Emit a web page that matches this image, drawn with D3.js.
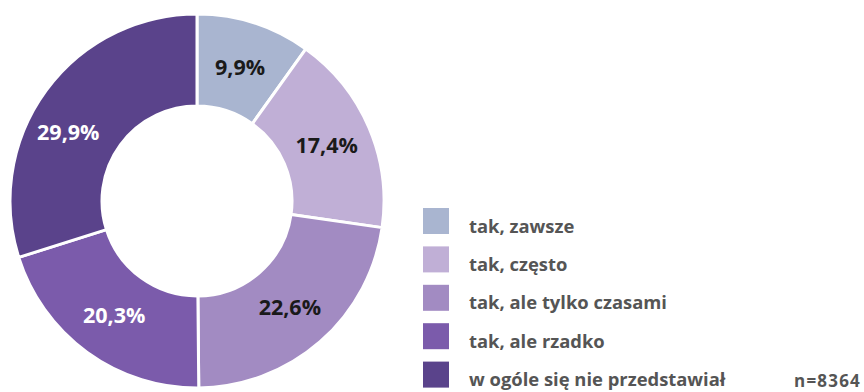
<!DOCTYPE html>
<html>
<head>
<meta charset="utf-8">
<script src="https://cdn.jsdelivr.net/npm/d3@7"></script>
<style>
  html, body { margin: 0; padding: 0; background: #fff; }
  svg { display: block; font-family: "Open Sans", "Noto Sans", sans-serif; }
</style>
</head>
<body>
<svg id="chart" width="864" height="392"></svg>
<script>
// Answer categories and their shares (%)
const categories = ["tak, zawsze", "tak, często", "tak, ale tylko czasami", "tak, ale rzadko", "w ogóle się nie przedstawiał"];
const values = [9.9, 17.4, 22.6, 20.3, 29.9];
const colors = ["#a9b5d0", "#c0afd6", "#a28bc2", "#7b5bab", "#5a438b"];
const labelColors = ["#1a1a1a", "#1a1a1a", "#1a1a1a", "#ffffff", "#ffffff"];
const sampleNote = "n=8364";

const svg = d3.select("#chart");
const cx = 197, cy = 201, outerR = 187, innerR = 95;

const fmt = v => d3.format(".1f")(v).replace(".", ",") + "%";

const pie = d3.pie().sort(null).value(d => d.value);
const arcs = pie(categories.map((c, i) => ({ name: c, value: values[i], i })));

const arc = d3.arc().innerRadius(innerR).outerRadius(outerR);
const labelArc = d3.arc().innerRadius((innerR + outerR) / 2).outerRadius((innerR + outerR) / 2);

// the largest slice's label sits a little further round toward the top
const labelNudge = { 4: [-15, 15] };

const g = svg.append("g").attr("transform", `translate(${cx},${cy})`);

g.selectAll("path.slice")
  .data(arcs)
  .join("path")
  .attr("class", "slice")
  .attr("d", arc)
  .attr("fill", d => colors[d.data.i])
  .attr("stroke", "#fff")
  .attr("stroke-width", 3)
  .attr("stroke-linejoin", "round");

g.selectAll("text.pct")
  .data(arcs)
  .join("text")
  .attr("class", "pct")
  .attr("transform", d => {
    const [x, y] = labelArc.centroid(d);
    const [nx, ny] = labelNudge[d.data.i] || [0, 0];
    return `translate(${x + nx},${y + ny})`;
  })
  .attr("text-anchor", "middle")
  .attr("dy", "0.36em")
  .attr("font-size", 21.5)
  .attr("font-weight", 700)
  .attr("fill", d => labelColors[d.data.i])
  .text(d => fmt(d.data.value));

// Legend
const legendY = d3.scaleBand().domain(categories).range([208, 400]);
const legend = svg.append("g").attr("transform", "translate(423,0)");
const rows = legend.selectAll("g.row")
  .data(categories)
  .join("g")
  .attr("class", "row")
  .attr("transform", d => `translate(0,${legendY(d)})`);

rows.append("rect")
  .attr("width", 26)
  .attr("height", 26)
  .attr("fill", (d, i) => colors[i]);

rows.append("text")
  .attr("x", 46)
  .attr("y", 24.5)
  .attr("font-size", 18.4)
  .attr("font-weight", 700)
  .attr("fill", "#555")
  .text(d => d);

svg.append("text")
  .attr("x", 861)
  .attr("y", 387)
  .attr("text-anchor", "end")
  .attr("font-size", 17)
  .attr("font-weight", 700)
  .attr("letter-spacing", 1.2)
  .attr("fill", "#555")
  .text(sampleNote);
</script>
</body>
</html>
